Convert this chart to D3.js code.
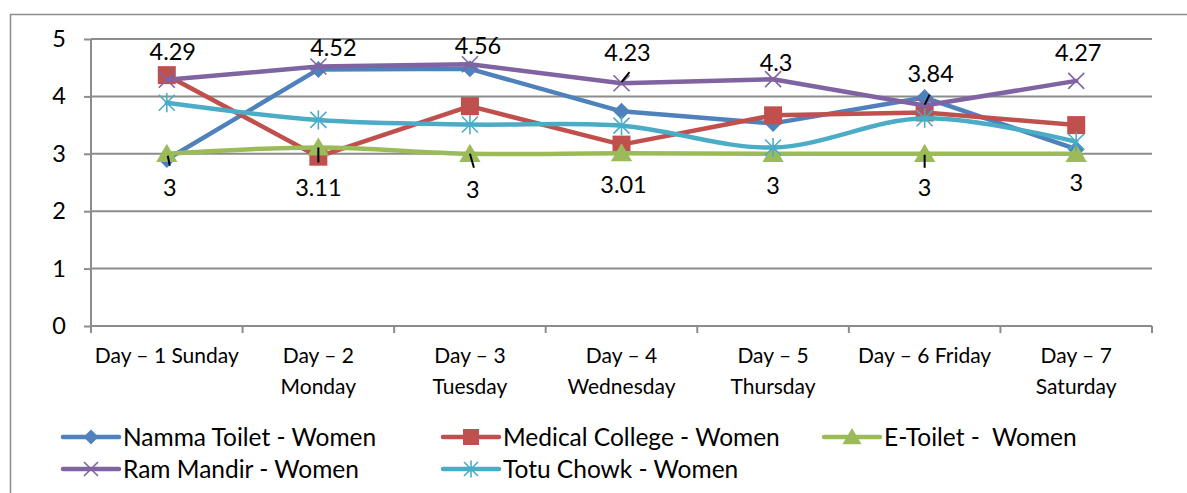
<!DOCTYPE html>
<html>
<head>
<meta charset="utf-8">
<script src="https://cdn.jsdelivr.net/npm/d3@7/dist/d3.min.js"></script>
<style>
  html, body { margin: 0; padding: 0; background: #fff; }
  svg { display: block; font-family: Lato, "Open Sans", sans-serif; }
</style>
</head>
<body>
<svg id="chart" width="1187" height="493"></svg>
<script>
// Weekly cleanliness ratings of women's public toilets
const days = [
  ["Day \u2013 1 Sunday"],
  ["Day \u2013 2", "Monday"],
  ["Day \u2013 3", "Tuesday"],
  ["Day \u2013 4", "Wednesday"],
  ["Day \u2013 5", "Thursday"],
  ["Day \u2013 6 Friday"],
  ["Day \u2013 7", "Saturday"]
];
const yTicks = [0, 1, 2, 3, 4, 5];

const nammaToilet    = [2.9, 4.47, 4.48, 3.74, 3.53, 3.98, 3.08];
const medicalCollege = [4.37, 2.95, 3.83, 3.16, 3.67, 3.72, 3.5];
const eToilet        = [3, 3.11, 3, 3.01, 3, 3, 3];
const ramMandir      = [4.29, 4.52, 4.56, 4.23, 4.3, 3.84, 4.27];
const totuChowk      = [3.89, 3.59, 3.51, 3.49, 3.11, 3.62, 3.21];

const seriesNames = [
  "Namma Toilet - Women",
  "Medical College - Women",
  "E-Toilet -  Women",
  "Ram Mandir - Women",
  "Totu Chowk - Women"
];

// ---- layout ----
const svg = d3.select("#chart");
const plotL = 91, plotR = 1152, plotT = 39, plotB = 326;

const x = d3.scaleBand().domain(d3.range(days.length)).range([plotL, plotR]);
const cx = i => x(i) + x.bandwidth() / 2;
const y = d3.scaleLinear().domain([0, 5]).range([plotB, plotT]);

const series = [
  { name: seriesNames[0], values: nammaToilet,    color: "#4F81BD", marker: "diamond",  curve: d3.curveLinear },
  { name: seriesNames[1], values: medicalCollege, color: "#C0504D", marker: "square",   curve: d3.curveLinear },
  { name: seriesNames[2], values: eToilet,        color: "#9BBB59", marker: "triangle", curve: d3.curveCatmullRom },
  { name: seriesNames[3], values: ramMandir,      color: "#8064A2", marker: "x",        curve: d3.curveLinear },
  { name: seriesNames[4], values: totuChowk,      color: "#4BACC6", marker: "star",     curve: d3.curveCatmullRom }
];

// outer chart frame (top and left edges visible)
svg.append("path")
  .attr("d", "M10.5,493 V14.5 H1187")
  .attr("fill", "none").attr("stroke", "#8c8c8c").attr("stroke-width", 1.5);

// gridlines + y axis
const yAxis = d3.axisLeft(y).tickValues(yTicks).tickSize(7).tickPadding(18).tickFormat(d3.format("d"));
const gY = svg.append("g").attr("transform", `translate(${plotL},0)`).call(yAxis);
gY.select(".domain").attr("stroke", "#8c8c8c").attr("stroke-width", 2)
  .attr("d", `M0,${plotT}V${plotB + 6}`);
gY.selectAll(".tick line").attr("stroke", "#8c8c8c").attr("stroke-width", 2);
gY.selectAll(".tick text").attr("font-size", 23.5).attr("fill", "#000").attr("font-family", "Lato");

svg.append("g").selectAll("line").data(yTicks)
  .join("line")
  .attr("x1", plotL).attr("x2", plotR)
  .attr("y1", d => y(d)).attr("y2", d => y(d))
  .attr("stroke", "#8c8c8c").attr("stroke-width", 2);

// x axis ticks at category boundaries
const bounds = d3.range(days.length + 1).map(i => plotL + i * x.bandwidth());
svg.append("g").selectAll("line").data(bounds)
  .join("line")
  .attr("x1", d => d).attr("x2", d => d)
  .attr("y1", plotB).attr("y2", plotB + 7)
  .attr("stroke", "#8c8c8c").attr("stroke-width", 2);

// category labels
const xl = svg.append("g").attr("font-size", 21).attr("text-anchor", "middle").attr("fill", "#000");
days.forEach((lines, i) => {
  lines.forEach((t, k) => {
    xl.append("text").attr("x", cx(i)).attr("y", 363 + k * 31).text(t);
  });
});

// ---- markers ----
function marker(g, type, color, s) {
  const h = s / 2;
  if (type === "diamond") {
    g.append("path").attr("d", `M0,${-h}L${h},0L0,${h}L${-h},0Z`).attr("fill", color);
  } else if (type === "square") {
    g.append("rect").attr("x", -h).attr("y", -h).attr("width", s).attr("height", s).attr("fill", color);
  } else if (type === "triangle") {
    g.append("path").attr("d", `M0,${-h * 1.05}L${h * 1.12},${h * 0.85}L${-h * 1.12},${h * 0.85}Z`).attr("fill", color);
  } else if (type === "x") {
    g.append("path").attr("d", `M${-h},${-h}L${h},${h}M${h},${-h}L${-h},${h}`)
      .attr("stroke", color).attr("stroke-width", 1.6);
  } else if (type === "star") {
    g.append("path").attr("d", `M${-h},${-h}L${h},${h}M${h},${-h}L${-h},${h}M0,${-h * 1.2}V${h * 1.2}`)
      .attr("stroke", color).attr("stroke-width", 1.6);
  }
}
const markerSize = { diamond: 17, square: 18, triangle: 19, x: 16, star: 16 };

// ---- series lines + markers ----
series.forEach(s => {
  const g = svg.append("g");
  const line = d3.line().x((d, i) => cx(i)).y(d => y(d)).curve(s.curve);
  g.append("path").datum(s.values).attr("d", line)
    .attr("fill", "none").attr("stroke", s.color).attr("stroke-width", 4.5)
    .attr("stroke-linejoin", "round").attr("stroke-linecap", "round");
  s.values.forEach((v, i) => {
    const mg = g.append("g").attr("transform", `translate(${cx(i)},${y(v)})`);
    marker(mg, s.marker, s.color, markerSize[s.marker]);
  });
});

// ---- data labels ----
// label offsets in px relative to the point (layout only)
const topLabelDx = [6, 15, 8, 6, 3, 6, 2];
const topLabelDy = [-28, -19, -19, -31, -17, -32, -28];
const bottomLabelDx = [3, 0, 3, 2, 0, 0, 0];
const bottomLabelDy = [34, 40, 36, 31, 32, 34, 29];
const lbl = svg.append("g").attr("font-size", 23.5).attr("text-anchor", "middle").attr("fill", "#000");
ramMandir.forEach((v, i) => {
  lbl.append("text").attr("x", cx(i) + topLabelDx[i]).attr("y", y(v) + topLabelDy[i] + 8.5).text(v);
});
eToilet.forEach((v, i) => {
  lbl.append("text").attr("x", cx(i) + bottomLabelDx[i]).attr("y", y(v) + bottomLabelDy[i] + 8.5).text(v);
});

// leader lines for labels that sit away from their points
const leaders = [
  { i: 0, v: eToilet[0], d: [[1, 2], [3, 12]] },
  { i: 1, v: eToilet[1], d: [[0, 0], [0, 15]] },
  { i: 2, v: eToilet[2], d: [[0, 0], [4, 14]] },
  { i: 3, v: ramMandir[3], d: [[0, -1], [8, -11]] },
  { i: 5, v: ramMandir[5], d: [[0, -1], [5, -11]] },
  { i: 5, v: eToilet[5], d: [[0, 1], [0, 14]] }
];
svg.append("g").selectAll("line").data(leaders).join("line")
  .attr("x1", d => cx(d.i) + d.d[0][0]).attr("y1", d => y(d.v) + d.d[0][1])
  .attr("x2", d => cx(d.i) + d.d[1][0]).attr("y2", d => y(d.v) + d.d[1][1])
  .attr("stroke", "#000").attr("stroke-width", 2);

// ---- legend ----
const legendPos = [[63, 437], [443, 437], [824, 437], [63, 469], [443, 469]];
series.forEach((s, k) => {
  const [lx, ly] = legendPos[k];
  const g = svg.append("g").attr("transform", `translate(${lx},${ly})`);
  g.append("line").attr("x1", 0).attr("x2", 56).attr("y1", 0).attr("y2", 0)
    .attr("stroke", s.color).attr("stroke-width", 4.5).attr("stroke-linecap", "round");
  const mg = g.append("g").attr("transform", "translate(28,0)");
  marker(mg, s.marker, s.color, markerSize[s.marker] - 2);
  g.append("text").attr("x", 60).attr("y", 8.5).attr("font-size", 24.5).attr("fill", "#000")
    .style("white-space", "pre").text(s.name);
});
</script>
</body>
</html>
